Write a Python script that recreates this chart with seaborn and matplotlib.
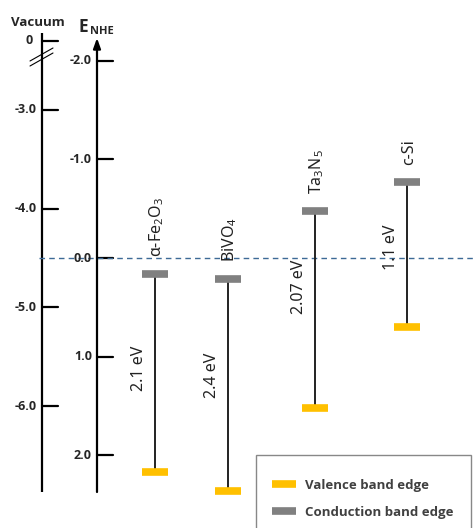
import matplotlib
matplotlib.use("Agg")
import matplotlib.pyplot as plt
import seaborn as sns
from matplotlib.lines import Line2D
from matplotlib.patches import Rectangle

# band edges vs NHE (V)
materials = ["α-Fe$_2$O$_3$", "BiVO$_4$", "Ta$_3$N$_5$", "c-Si"]
cb_edge = [0.16, 0.21, -0.48, -0.77]
vb_edge = [2.17, 2.36, 1.52, 0.70]
gap_labels = ["2.1 eV", "2.4 eV", "2.07 eV", "1.1 eV"]

nhe_ticks = [-2.0, -1.0, 0.0, 1.0, 2.0]
vac_ticks = [-3.0, -4.0, -5.0, -6.0]
vac_offset = -4.5  # vacuum level of NHE 0

# layout (figure pixels)
W, H = 477, 528
px_per_ev = 98.7
y_zero = 258
bar_x = [155, 228, 315, 407]
gap_shift = [0.05, 0.10, 0.23, 0.07]

YELLOW = "#FFC000"
GRAY = "#808080"

sns.set_theme(style="white")
plt.rcParams["font.family"] = ["Open Sans", "DejaVu Sans"]
plt.rcParams["mathtext.fontset"] = "custom"
plt.rcParams["mathtext.rm"] = "Noto Sans"
plt.rcParams["mathtext.it"] = "Noto Sans"


def e_of(ypx):
    return (ypx - y_zero) / px_per_ev


fig = plt.figure(figsize=(W / 100, H / 100), dpi=100)
ax = fig.add_axes([0, 0, 1, 1])
ax.set_xlim(0, W)
ax.set_ylim(e_of(H), e_of(0))
ax.axis("off")

x_vac, x_nhe = 42, 97
tick_len = 16
bottom = e_of(492)

# vacuum axis
ax.plot([x_vac, x_vac], [bottom, e_of(33)], color="black", lw=1.6, solid_capstyle="butt")
for v in vac_ticks:
    e = -v + vac_offset
    ax.plot([x_vac, x_vac + tick_len], [e, e], color="black", lw=1.6)
    ax.text(x_vac - 5, e, f"{v:.1f}", ha="right", va="center", fontsize=9, fontweight="bold")
e0 = e_of(41)
ax.plot([x_vac, x_vac + tick_len], [e0, e0], color="black", lw=1.6)
ax.text(x_vac - 9, e0, "0", ha="right", va="center", fontsize=9, fontweight="bold")
for dy in (0, 5):
    ax.plot([30, 53], [e_of(61 + dy), e_of(48 + dy)], color="black", lw=0.8)
ax.text(x_vac - 4, e_of(22), "Vacuum", ha="center", va="center", fontsize=9.5, fontweight="bold")

# NHE axis
ax.annotate("", xy=(x_nhe, e_of(38)), xytext=(x_nhe, bottom),
            arrowprops=dict(arrowstyle="-|>,head_length=0.5,head_width=0.18",
                            color="black", lw=1.6, shrinkA=0, shrinkB=0))
for t in nhe_ticks:
    ax.plot([x_nhe, x_nhe + tick_len], [t, t], color="black", lw=1.6)
    ax.text(x_nhe - 5, t, f"{t:.1f}", ha="right", va="center", fontsize=9, fontweight="bold")
ax.text(x_nhe - 18, e_of(27), "E", ha="left", va="center", fontsize=12.5, fontweight="bold")
ax.text(x_nhe - 7, e_of(32), "NHE", ha="left", va="center", fontsize=8, fontweight="bold")

# NHE 0 reference
ax.plot([39, W], [0, 0], color="#3d6a96", lw=1, ls=(0, (4, 3)))

# band edges
half = 13
for x, cb, vb, name, gap, sh in zip(bar_x, cb_edge, vb_edge, materials, gap_labels, gap_shift):
    ax.plot([x, x], [cb, vb], color="#222222", lw=1.4, zorder=2)
    ax.plot([x - half, x + half], [cb, cb], color=GRAY, lw=5.5, solid_capstyle="butt", zorder=3)
    ax.plot([x - half, x + half], [vb, vb], color=YELLOW, lw=5.5, solid_capstyle="butt", zorder=3)
    ax.text(x + 2, cb - 0.17, name, rotation=90, ha="center", va="bottom",
            fontsize=11.5, family="Noto Sans", color="#222222")
    ax.text(x - 16, (cb + vb) / 2 - sh, gap, rotation=90, ha="center", va="center",
            fontsize=11.5, family="Noto Sans", color="#222222")

# legend box runs off the bottom edge
ax.add_patch(Rectangle((256, e_of(560)), 215, e_of(455) - e_of(560), facecolor="white",
                       edgecolor="#888888", lw=1.0, zorder=4))
handles = [Line2D([], [], color=YELLOW, lw=5.5, solid_capstyle="butt"),
           Line2D([], [], color=GRAY, lw=5.5, solid_capstyle="butt")]
leg = ax.legend(handles, ["Valence band edge", "Conduction band edge"],
                loc="upper left", bbox_to_anchor=(256 / W, 1 - 468 / H, 215 / W, 0.01),
                mode="expand", frameon=False, handlelength=1.85,
                borderpad=1.2, borderaxespad=0, labelspacing=1.1, handletextpad=0.7,
                prop=dict(size=9.5, weight="bold"))
leg.set_zorder(5)
for t in leg.get_texts():
    t.set_color("#404040")

fig.savefig("out.png", dpi=100)
